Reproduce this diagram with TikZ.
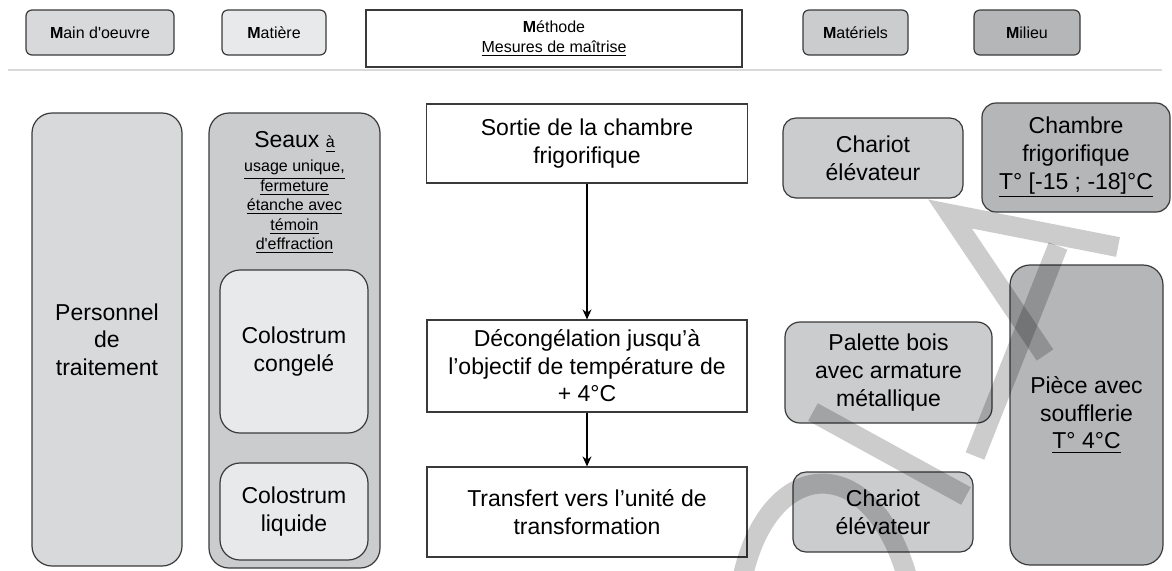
\documentclass[tikz,border=0pt]{standalone}
\usepackage{fontspec}
\setmainfont{Liberation Sans}
\usetikzlibrary{arrows.meta, positioning}

\definecolor{trait}{HTML}{3A3A3A}
\definecolor{grisclair}{HTML}{E8E9EB}
\definecolor{grismoyen}{HTML}{D8D9DB}
\definecolor{grisfonce}{HTML}{CBCCCD}
\definecolor{grismilieu}{HTML}{B5B6B8}

\newcommand{\texte}{\fontsize{11.5}{13.8}\selectfont}
\newcommand{\entete}{\fontsize{8}{10}\selectfont}
\newcommand{\petit}{\fontsize{8}{9.7}\selectfont}

\begin{document}
\begin{tikzpicture}[x=0.5pt, y=-0.5pt, >=Stealth,
    rbox/.style={draw=trait, line width=0.6pt, rounded corners=#1, align=center, inner sep=1pt, font=\texte},
    rbox/.default=6pt,
    etape/.style={draw=trait, line width=0.6pt, fill=white, align=center, inner sep=1pt, font=\texte},
    fleche/.style={->, >={Stealth[length=5pt, width=4.5pt]}, line width=0.6pt, black}]

    \useasboundingbox (0,0) rectangle (1172,570);

    % ==========================================
    % EN-TETE : les 5 M
    % ==========================================
    \node[rbox=3pt, fill=grismoyen, minimum width=74pt, minimum height=22.5pt, font=\entete] (mo) at (100,32.5) {\textbf{M}ain d\textquotesingle oeuvre};
    \node[rbox=3pt, fill=grisclair, minimum width=52pt, minimum height=22.5pt, font=\entete] (mat) at (274,32.5) {\textbf{M}atière};
    \node[etape, minimum width=188pt, minimum height=28.5pt, font=\entete] (meth) at (554,38.5) {\textbf{M}éthode\\\underline{Mesures de maîtrise}};
    \node[rbox=3pt, fill=grisfonce, minimum width=52.5pt, minimum height=22.5pt, font=\entete] (matl) at (855.5,32.5) {\textbf{M}atériels};
    \node[rbox=3pt, fill=grismilieu, minimum width=53pt, minimum height=22.5pt, font=\entete] (mil) at (1027,32.5) {\textbf{M}ilieu};

    % separateur
    \draw[gray!30, line width=1pt] (8,70) -- (1162,70);

    % ==========================================
    % MAIN D'OEUVRE et MATIERE
    % ==========================================
    \node[rbox=10pt, fill=grismoyen, minimum width=75pt, minimum height=226.5pt] (perso) at (107,339.5) {Personnel\\de\\traitement};

    \node[rbox=10pt, fill=grisfonce, minimum width=85.5pt, minimum height=227.5pt] (seaux) at (294.5,340.5) {};
    \node[font=\texte, inner sep=0pt] (seauxtit) at (294.5,142) {Seaux {\petit\underline{à}}};
    \node[font=\petit, align=center, inner sep=0pt] (seauxdet) at (294.5,207) {\underline{usage unique,}\\\underline{fermeture}\\\underline{étanche avec}\\\underline{témoin}\\\underline{d\textquotesingle effraction}};

    \node[rbox=10pt, fill=grisclair, minimum width=74pt, minimum height=81.5pt] (cong) at (294,351.5) {Colostrum\\congelé};
    \node[rbox=10pt, fill=grisclair, minimum width=74pt, minimum height=48.5pt] (liq) at (294,511.5) {Colostrum\\liquide};

    % ==========================================
    % METHODE : les etapes
    % ==========================================
    \node[etape, minimum width=160.5pt, minimum height=39.5pt] (sortie) at (587,143.5) {Sortie de la chambre\\frigorifique};
    \node[etape, minimum width=160pt, minimum height=46pt] (decong) at (587,366) {Décongélation jusqu’à\\l’objectif de température de\\+ 4°C};
    \node[etape, minimum width=160pt, minimum height=45pt] (transf) at (587,512) {Transfert vers l’unité de\\transformation};

    \draw[fleche] (sortie) -- (decong);
    \draw[fleche] (decong) -- (transf);

    % ==========================================
    % MATERIELS et MILIEU
    % ==========================================
    \node[rbox=6.5pt, fill=grisfonce, minimum width=90pt, minimum height=40pt] (chariot) at (873,158) {Chariot\\élévateur};
    \node[rbox=7pt, fill=grismilieu, minimum width=94pt, minimum height=54.5pt] (chambre) at (1076,157.5) {Chambre\\frigorifique\\\underline{T° [-15 ; -18]°C}};
    \node[rbox=7.5pt, fill=grisfonce, minimum width=103.5pt, minimum height=50.5pt] (palette) at (888.5,372.5) {Palette bois\\avec armature\\métallique};
    \node[rbox=6.5pt, fill=grisfonce, minimum width=90pt, minimum height=40pt] (chariotb) at (883,512) {Chariot\\élévateur};
    \node[rbox=10pt, fill=grismilieu, minimum width=76.5pt, minimum height=150pt] (piece) at (1086.5,415) {Pièce avec\\soufflerie\\\underline{T° 4°C}};

    % ==========================================
    % FILIGRANE
    % ==========================================
    \begin{scope}[black, opacity=0.2, line width=10pt]
        \draw (742,580) .. controls (768,455) and (872,448) .. (908,580);
        \draw (813,412) -- (966,496);
        \draw (1058,246) -- (975,456);
        \draw[line join=miter] (1118,247) -- (950,214) -- (1045,355);
    \end{scope}

\end{tikzpicture}
\end{document}
